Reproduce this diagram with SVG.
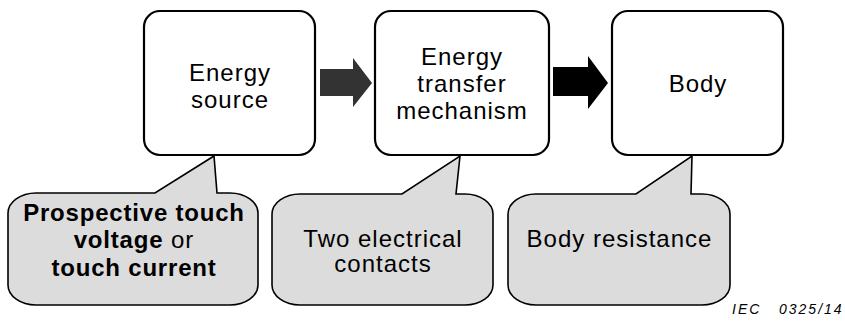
<svg xmlns="http://www.w3.org/2000/svg" width="845" height="326" viewBox="0 0 845 326">
<style>
text{font-family:"Liberation Sans",Arial,sans-serif;font-size:24px;fill:#000;text-anchor:middle;letter-spacing:1px}
.box{fill:#fff;stroke:#000;stroke-width:2.2}
.call{fill:#dcdcdc;stroke:#000;stroke-width:1.6;stroke-linejoin:miter}
.b{font-weight:bold;letter-spacing:0.8px}
.iec{font-size:14px;font-style:italic;text-anchor:start;letter-spacing:2px}
</style>
<rect width="845" height="326" fill="#fff"/>
<g id="energy-source">
<rect class="box" x="144" y="11" width="171" height="144" rx="16"/>
<text x="230" y="81">Energy</text>
<text x="230" y="108">source</text>
</g>
<g id="energy-transfer">
<rect class="box" x="375" y="11" width="174" height="144" rx="16"/>
<text x="462" y="65">Energy</text>
<text x="462" y="92">transfer</text>
<text x="462" y="119">mechanism</text>
</g>
<g id="body">
<rect class="box" x="612" y="11" width="171" height="144" rx="16"/>
<text x="698" y="92">Body</text>
</g>
<g id="connectors">
<path d="M320,69 L353,69 L353,58 L372,83 L353,107 L353,96 L320,96 Z" fill="#333"/>
<path d="M553,67 L588,67 L588,56 L608,83 L588,109 L588,96 L553,96 Z" fill="#000"/>
</g>
<g id="callout-touch">
<path class="call" d="M36,193 L155,193 L214,156 L217,193 L230,193 A28,20 0 0 1 258,213 L258,285 A28,20 0 0 1 230,305 L36,305 A28,20 0 0 1 8,285 L8,213 A28,20 0 0 1 36,193 Z"/>
<text class="b" x="134" y="221">Prospective touch</text>
<text x="134" y="248"><tspan class="b">voltage</tspan> or</text>
<text class="b" x="134" y="276">touch current</text>
</g>
<g id="callout-contacts">
<path class="call" d="M300,194 L402,194 L460,156 L456,194 L465,194 A28,20 0 0 1 493,214 L493,285 A28,20 0 0 1 465,305 L300,305 A28,20 0 0 1 272,285 L272,214 A28,20 0 0 1 300,194 Z"/>
<text x="383" y="247">Two electrical</text>
<text x="383" y="272">contacts</text>
</g>
<g id="callout-resistance">
<path class="call" d="M536,194 L636,194 L692,156 L691,194 L702,194 A28,20 0 0 1 730,214 L730,285 A28,20 0 0 1 702,305 L536,305 A28,20 0 0 1 508,285 L508,214 A28,20 0 0 1 536,194 Z"/>
<text x="619.5" y="247">Body resistance</text>
</g>
<text class="iec" x="732" y="314" xml:space="preserve">IEC   0325/14</text>
</svg>
